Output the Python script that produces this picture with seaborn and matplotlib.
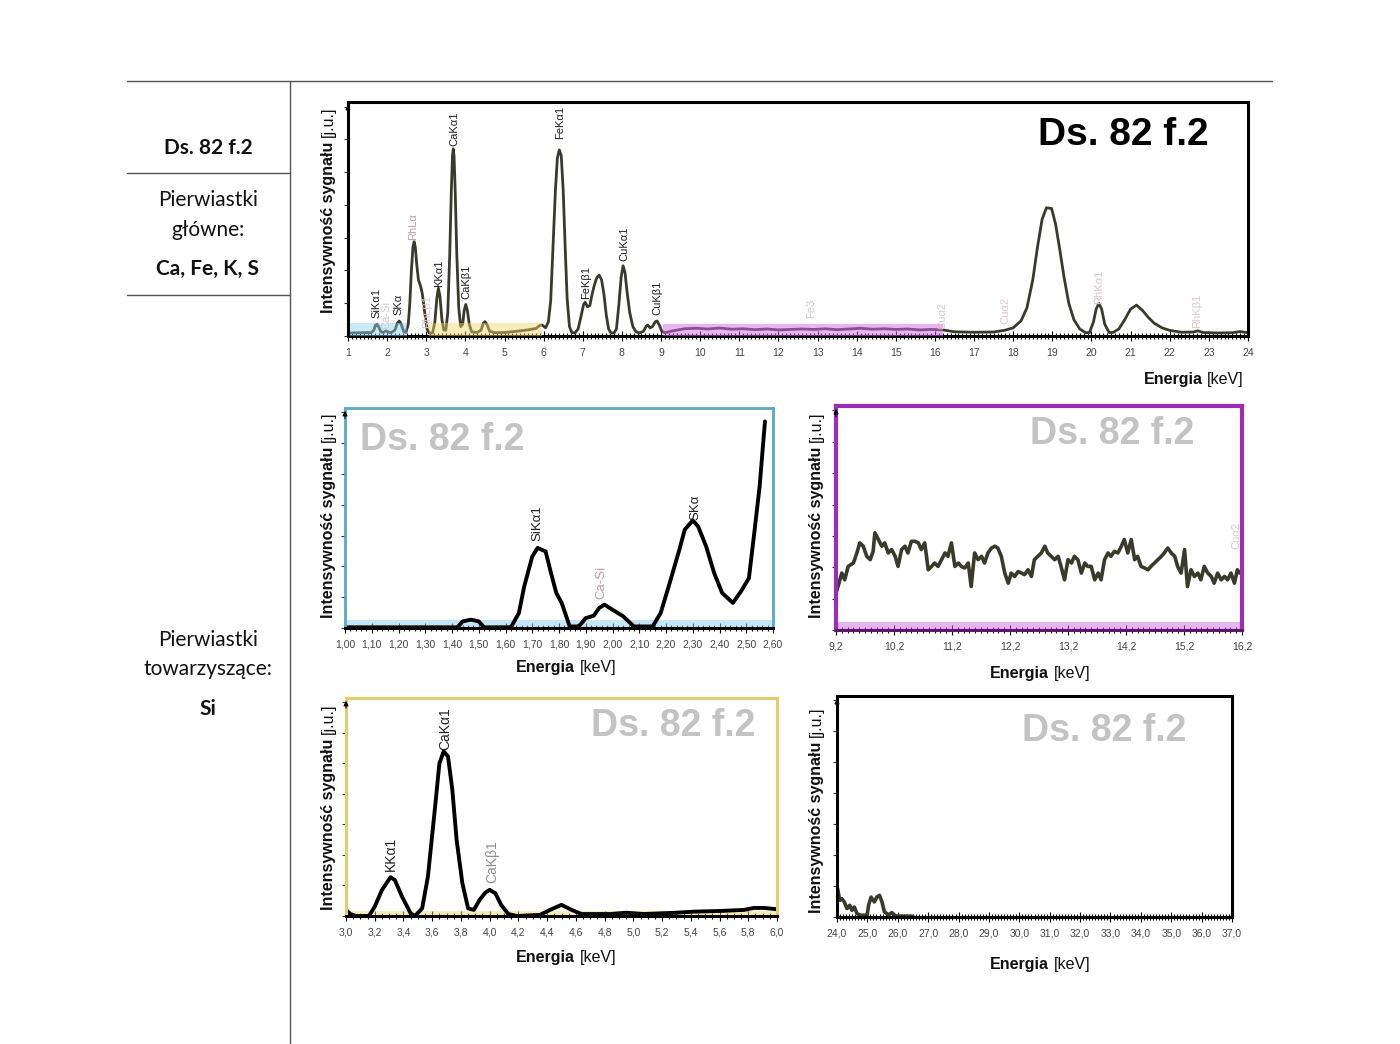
import numpy as np
import pandas as pd
import seaborn as sns
import matplotlib.pyplot as plt
from matplotlib.lines import Line2D
from matplotlib.patches import Rectangle
from matplotlib.ticker import FixedLocator, MultipleLocator, FuncFormatter

# --- full spectrum 1-24 keV (intensity in % of plot height) ---
top_energy = [1.00, 1.60, 1.66, 1.70, 1.74, 1.78, 1.84, 1.90, 1.97, 2.02,
              2.10, 2.20, 2.26, 2.31, 2.36, 2.42, 2.48, 2.54, 2.58, 2.62,
              2.66, 2.69, 2.72, 2.76, 2.80, 2.86, 2.90, 2.96, 3.02, 3.08,
              3.16, 3.22, 3.27, 3.31, 3.35, 3.40, 3.45, 3.50, 3.55, 3.60,
              3.64, 3.67, 3.69, 3.71, 3.74, 3.78, 3.83, 3.88, 3.93, 3.97,
              4.01, 4.05, 4.10, 4.16, 4.30, 4.40, 4.46, 4.50, 4.55, 4.62,
              4.75, 5.00, 5.30, 5.60, 5.80, 5.90, 5.96, 6.05, 6.12, 6.18,
              6.24, 6.30, 6.35, 6.40, 6.45, 6.50, 6.55, 6.60, 6.66, 6.72,
              6.80, 6.88, 6.95, 7.02, 7.06, 7.12, 7.18, 7.24, 7.30, 7.36,
              7.42, 7.48, 7.54, 7.60, 7.66, 7.72, 7.80, 7.86, 7.92, 7.98,
              8.03, 8.08, 8.13, 8.20, 8.28, 8.36, 8.45, 8.55, 8.62, 8.66,
              8.72, 8.78, 8.86, 8.90, 8.96, 9.02, 9.10, 9.30, 9.60, 9.90,
              10.20, 10.50, 10.80, 11.10, 11.40, 11.70, 12.00, 12.30, 12.60, 12.90,
              13.20, 13.50, 13.80, 14.10, 14.40, 14.70, 15.00, 15.30, 15.60, 15.90,
              16.20, 16.50, 17.00, 17.50, 17.80, 18.00, 18.20, 18.35, 18.50, 18.62,
              18.74, 18.85, 18.98, 19.08, 19.18, 19.30, 19.42, 19.55, 19.70, 19.85,
              19.95, 20.05, 20.12, 20.19, 20.26, 20.34, 20.45, 20.55, 20.70, 20.85,
              21.00, 21.15, 21.30, 21.45, 21.60, 21.80, 22.00, 22.30, 22.60, 22.72,
              22.85, 23.20, 23.60, 23.80, 23.95, 24.00]
top_counts = [1.3, 1.5, 2.5, 4.5, 5.0, 4.0, 1.8, 1.5, 2.2, 1.8,
              1.4, 2.5, 5.5, 6.4, 5.0, 2.0, 1.5, 5.0, 14, 28,
              38, 40.3, 38, 30, 24, 21, 18, 10, 3, 1.2,
              1.3, 6, 16, 20.4, 17, 7, 2.5, 2.5, 10, 35,
              62, 77, 80, 77, 62, 35, 12, 4, 5, 11,
              13.5, 11, 5, 1.8, 1.5, 2.5, 5.5, 6.1, 5, 2,
              1.4, 1.5, 2.0, 2.6, 3.2, 4.5, 4.7, 3.5, 6, 15,
              38, 62, 76, 79.5, 77, 62, 38, 16, 4, 1.5,
              1.3, 3, 8, 13.5, 14.4, 12.5, 13, 18, 22, 25,
              26, 24, 18, 9, 3, 1.3, 1.3, 3, 13, 25,
              30, 27, 19, 10, 4, 1.8, 1.3, 2, 4.2, 4.7,
              3.5, 4.0, 6.2, 6.4, 4.5, 2.0, 1.4, 2.2, 3.1, 3.3,
              3.0, 3.4, 2.9, 3.1, 2.7, 3.0, 2.6, 2.8, 3.0, 2.8,
              3.1, 2.7, 3.0, 3.3, 2.9, 3.1, 2.8, 3.0, 2.6, 2.8,
              2.6, 1.8, 1.6, 1.7, 2.5, 3.5, 6.5, 12, 24, 38,
              50, 54.8, 54.5, 48, 38, 25, 14, 7, 3, 1.4,
              1.5, 6, 11.5, 14, 11.5, 5, 1.5, 1.5, 3, 7,
              11.5, 13.2, 11, 8, 5.5, 3.5, 2.4, 1.6, 1.7, 2.2,
              1.5, 1.3, 1.4, 1.9, 1.5, 1.4]
top_ticks = list(range(1, 25))
top_labels = [("SiKα1", 1.72, 7.7, "k"), ("Ca-Si", 1.97, 3.0, "faint"),
              ("SKα", 2.30, 8.9, "k"), ("RhLα", 2.66, 41, "pink"),
              ("RhLβ1", 3.02, 3.4, "faint"), ("KKα1", 3.33, 21, "k"),
              ("CaKα1", 3.71, 81, "k"), ("CaKβ1", 4.02, 16, "k"),
              ("FeKα1", 6.42, 84, "k"), ("FeKβ1", 7.08, 16, "k"),
              ("CuKα1", 8.06, 32, "k"), ("CuKβ1", 8.90, 9, "k"),
              ("Fe3", 12.84, 7.7, "faint"), ("Cuα2", 16.2, 3, "faint"),
              ("Cuα2", 17.8, 5, "faint"), ("RhKα1", 20.2, 13.5, "faint"),
              ("RhKβ1", 22.7, 3.4, "faint")]

# --- zoom 1.0-2.6 keV ---
blue_energy = [1.00, 1.42, 1.44, 1.47, 1.50, 1.52, 1.62, 1.65, 1.67, 1.70,
               1.72, 1.75, 1.77, 1.79, 1.81, 1.84, 1.87, 1.88, 1.90, 1.93,
               1.95, 1.97, 2.00, 2.04, 2.08, 2.15, 2.18, 2.21, 2.25, 2.27,
               2.30, 2.32, 2.35, 2.38, 2.41, 2.45, 2.48, 2.51, 2.53, 2.55, 2.57]
blue_counts = [0.3, 0.3, 3.0, 3.8, 3.0, 0.3, 0.3, 6.8, 18.9, 32.5,
               36.4, 34.8, 25, 15.9, 11.4, 0.7, 0.7, 1.5, 4.5, 5.6,
               9.1, 10.6, 8.3, 5.3, 0.7, 0.7, 6.8, 18.9, 35.6, 44.7,
               48.9, 46.2, 37.1, 25, 15.9, 11.4, 16.6, 22.7, 43.2, 64.4, 93.9]
blue_ticks = [1.00, 1.10, 1.20, 1.30, 1.40, 1.50, 1.60, 1.70, 1.80,
              1.90, 2.00, 2.10, 2.20, 2.30, 2.40, 2.50, 2.60]
blue_labels = [("SiKα1", 1.72, 39.5, "k"), ("Ca-Si", 1.96, 13, "pink"),
               ("SKα", 2.31, 49, "k")]

# --- zoom 9.2-16.2 keV ---
purple_energy = [9.21, 9.30, 9.35, 9.41, 9.50, 9.56, 9.61, 9.67, 9.73, 9.79,
                 9.84, 9.87, 9.93, 9.99, 10.04, 10.10, 10.16, 10.22, 10.27, 10.33,
                 10.39, 10.44, 10.50, 10.56, 10.62, 10.67, 10.73, 10.79, 10.85, 10.90,
                 10.96, 11.02, 11.08, 11.13, 11.19, 11.25, 11.31, 11.36, 11.42, 11.48,
                 11.53, 11.59, 11.65, 11.71, 11.76, 11.82, 11.88, 11.94, 11.99, 12.05,
                 12.11, 12.17, 12.22, 12.28, 12.34, 12.40, 12.45, 12.51, 12.57, 12.62,
                 12.68, 12.74, 12.80, 12.85, 12.91, 12.97, 13.03, 13.08, 13.14, 13.20,
                 13.26, 13.31, 13.37, 13.43, 13.49, 13.54, 13.60, 13.66, 13.72, 13.77,
                 13.83, 13.89, 13.94, 14.00, 14.06, 14.12, 14.17, 14.23, 14.29, 14.35,
                 14.40, 14.46, 14.52, 14.58, 14.63, 14.69, 14.75, 14.81, 14.86, 14.92,
                 14.98, 15.04, 15.09, 15.15, 15.21, 15.26, 15.32, 15.38, 15.44, 15.49,
                 15.55, 15.61, 15.67, 15.72, 15.78, 15.84, 15.90, 15.95, 16.01, 16.07,
                 16.12, 16.16]
purple_counts = [17.2, 25.4, 22.4, 28.4, 29.9, 34.4, 38.9, 37.4, 32.9, 31.4,
                 35.1, 43.4, 40.4, 37.4, 38.9, 34.4, 35.9, 32.9, 28.4, 35.9,
                 37.4, 34.4, 39.6, 39.6, 38.9, 35.9, 38.9, 26.9, 28.4, 29.9,
                 28.4, 31.4, 34.4, 32.9, 38.9, 28.4, 29.9, 28.4, 27.7, 29.9,
                 19.4, 34.4, 31.4, 32.9, 29.9, 34.4, 36.6, 37.4, 36.6, 32.9,
                 25.4, 20.9, 25.4, 23.9, 26.1, 25.4, 24.7, 26.9, 23.9, 31.4,
                 32.9, 34.4, 37.4, 34.4, 32.9, 31.4, 32.9, 28.4, 22.4, 31.4,
                 29.9, 32.9, 31.4, 25.4, 29.9, 28.4, 28.4, 22.4, 25.4, 22.4,
                 31.4, 34.4, 32.9, 35.1, 34.4, 37.4, 40.4, 34.4, 40.4, 31.4,
                 32.9, 28.4, 27.7, 26.9, 28.4, 29.9, 31.4, 32.9, 34.4, 36.6,
                 34.4, 32.9, 28.4, 25.4, 35.9, 19.4, 26.9, 23.9, 25.4, 22.4,
                 28.4, 25.4, 23.9, 20.9, 25.4, 22.4, 23.9, 22.4, 25.4, 20.9,
                 26.9, 25.4]
purple_ticks = [9.2, 10.2, 11.2, 12.2, 13.2, 14.2, 15.2, 16.2]

# --- zoom 3.0-6.0 keV ---
yellow_energy = [3.00, 3.03, 3.07, 3.16, 3.20, 3.25, 3.31, 3.34, 3.39, 3.45,
                 3.48, 3.53, 3.57, 3.62, 3.65, 3.68, 3.71, 3.74, 3.77, 3.81,
                 3.85, 3.89, 3.93, 3.97, 4.00, 4.04, 4.08, 4.13, 4.19, 4.35,
                 4.42, 4.50, 4.57, 4.64, 4.84, 4.95, 5.07, 5.30, 5.42, 5.60,
                 5.77, 5.84, 5.91, 6.00]
yellow_counts = [2.8, 0.9, 0, 0, 4.3, 11.9, 17.8, 16.5, 8.9, 1.2,
                 0, 3.5, 18, 50, 70, 75.5, 73.2, 57.9, 34.9, 15,
                 3.5, 2.8, 7.4, 10.7, 12, 10.4, 5.1, 0.9, 0, 0.5,
                 2.8, 5.1, 2.8, 0.9, 0.9, 1.5, 0.9, 1.5, 2, 2.3,
                 2.8, 3.7, 3.7, 3.1]
yellow_ticks = [3.0, 3.2, 3.4, 3.6, 3.8, 4.0, 4.2, 4.4, 4.6, 4.8,
                5.0, 5.2, 5.4, 5.6, 5.8, 6.0]
yellow_labels = [("KKα1", 3.31, 20.5, "k"), ("CaKα1", 3.69, 76, "k"),
                 ("CaKβ1", 4.02, 15, "grey")]

# --- zoom 24-37 keV ---
black_energy = [24.02, 24.09, 24.16, 24.24, 24.33, 24.42, 24.49, 24.57, 24.66, 24.77,
                24.99, 25.04, 25.12, 25.23, 25.31, 25.40, 25.48, 25.56, 25.70, 25.81,
                25.92, 26.50]
black_counts = [12.8, 7.5, 8.3, 6.8, 3.8, 5.3, 3.0, 4.5, 1.5, 0.8,
                0.8, 5.3, 9.0, 6.8, 9.0, 9.8, 6.8, 2.3, 1.0, 2.0,
                0.5, 0.3]
black_ticks = list(range(24, 38))

sample = "Ds. 82 f.2"

sns.set_style("white")
plt.rcParams['font.family'] = ['Liberation Sans', 'DejaVu Sans']

W, H = 1400, 1044
fig = plt.figure(figsize=(14, 10.44), dpi=100)
OLIVE = '#3a3a2c'
LABEL_COLORS = {"k": "#222222", "pink": "#c49aa2", "faint": "#dcc6c8", "grey": "#8c8c8c"}


def px(x, y):
    return x / W, 1 - y / H


def box(l, t, r, b):
    return fig.add_axes([l / W, 1 - b / H, (r - l) / W, (b - t) / H])


def style(ax, xlim, ticks, minor, decimals, frame, frame_lw, bottom):
    ax.set_xlim(xlim)
    ax.set_ylim(0, 100)
    ax.xaxis.set_major_locator(FixedLocator(ticks))
    ax.xaxis.set_minor_locator(MultipleLocator(minor))
    ax.xaxis.set_major_formatter(FuncFormatter(
        lambda v, p: f"{v:.{decimals}f}".replace('.', ',')))
    ax.tick_params(axis='x', which='both', bottom=True, direction='inout',
                   color='k', width=0.8, labelsize=7.5, labelcolor='#444444', pad=5)
    ax.tick_params(axis='x', which='major', length=7)
    ax.tick_params(axis='x', which='minor', length=5)
    ax.yaxis.set_major_locator(MultipleLocator(14))
    ax.tick_params(axis='y', left=True, direction='out', length=3, width=0.8,
                   color='#333333', labelleft=False)
    for side in ['top', 'right', 'left']:
        ax.spines[side].set_color(frame)
        ax.spines[side].set_linewidth(frame_lw)
    ax.spines['bottom'].set_color(bottom)
    ax.spines['bottom'].set_linewidth(2.2)
    ax.annotate('', xy=(0.0, 1.0), xytext=(0.0, 0.94), xycoords='axes fraction',
                arrowprops=dict(arrowstyle='-|>', color='k', lw=0.8,
                                mutation_scale=7))
    ax.set_xlabel('')
    ax.set_ylabel('')


def peak_names(ax, labels, size):
    for name, x, y, c in labels:
        ax.text(x, y, name, rotation=90, ha='center', va='bottom',
                fontsize=size, color=LABEL_COLORS[c], zorder=5)


def two_weight(x, y, bold, normal, size, vertical=False, align='center'):
    r = fig.canvas.get_renderer()
    kw = dict(fontsize=size, ha='left', va='baseline', color='#111111',
              rotation=90 if vertical else 0, rotation_mode='anchor')
    a = fig.text(0, 0, bold, fontweight='bold', **kw)
    b = fig.text(0, 0, normal, **kw)
    ea, eb = a.get_window_extent(r), b.get_window_extent(r)
    la = ea.height if vertical else ea.width
    lb = eb.height if vertical else eb.width
    gap = 0.28 * size * 100 / 72
    if vertical:
        a.set_position(px(x, y))
        b.set_position(px(x, y - la - gap))
    else:
        total = la + gap + lb
        start = x - total / 2 if align == 'center' else x - total
        a.set_position(px(start, y))
        b.set_position(px(start + la + gap, y))


# ---------- left table column ----------
for (x0, y0, x1, y1) in [(127, 81, 1272, 81), (290, 81, 290, 1044),
                         (127, 173, 290, 173), (127, 295, 290, 295)]:
    fig.add_artist(Line2D([x0 / W, x1 / W], [1 - y0 / H, 1 - y1 / H],
                          transform=fig.transFigure, color='#555555', lw=1))
left_texts = [(sample, 148, 'bold'), ("Pierwiastki", 200, 'normal'),
              ("główne:", 230, 'normal'), ("Ca, Fe, K, S", 269, 'bold'),
              ("Pierwiastki", 640, 'normal'), ("towarzyszące:", 669, 'normal'),
              ("Si", 709, 'bold')]
for s, y, w in left_texts:
    fig.text(*px(208, y), s, ha='center', va='center', fontsize=15,
             fontweight=w, family=['Lato', 'DejaVu Sans'], color='#111111')

# ---------- top: full spectrum ----------
ax = box(348, 102, 1248, 336)
sns.lineplot(x=top_energy, y=top_counts, ax=ax, color=OLIVE, linewidth=2.0,
             sort=False, estimator=None)
style(ax, (1, 24), top_ticks, 0.1, 0, 'k', 2.2, 'k')
for x0, x1, h, c, a in [(1.05, 2.5, 5.7, '#8ccfee', 0.45),
                        (3.07, 5.96, 5.7, '#f3d66a', 0.45),
                        (9.05, 16.2, 5.3, '#d56ae6', 0.5)]:
    ax.add_patch(Rectangle((x0, 0), x1 - x0, h, color=c, alpha=a, lw=0, zorder=3))
peak_names(ax, top_labels, 8)
ax.text(0.862, 0.86, sample, transform=ax.transAxes, ha='center', va='center',
        fontsize=28, fontweight='bold', color='k')

# ---------- blue: 1.0-2.6 keV ----------
ax = box(345, 408, 773, 628)
ax.add_patch(Rectangle((1.0, 0), 1.6, 3.5, color='#8ccfee', alpha=0.5, lw=0, zorder=1))
sns.lineplot(x=blue_energy, y=blue_counts, ax=ax, color='k', linewidth=2.8,
             sort=False, estimator=None)
style(ax, (1.0, 2.6), blue_ticks, 0.02, 2, '#57a9c9', 2.0, 'k')
peak_names(ax, blue_labels, 9.5)
ax.text(0.035, 0.855, sample, transform=ax.transAxes, ha='left', va='center',
        fontsize=27, fontweight='bold', color='#c3c3c3')

# ---------- purple: 9.2-16.2 keV ----------
ax = box(836, 406, 1242, 630)
ax.add_patch(Rectangle((9.2, 0), 7.0, 3.5, color='#d56ae6', alpha=0.5, lw=0, zorder=1))
sns.lineplot(x=purple_energy, y=purple_counts, ax=ax, color=OLIVE, linewidth=2.6,
             sort=False, estimator=None)
style(ax, (9.2, 16.2), purple_ticks, 0.1, 1, '#9b2fb3', 3.0, '#5a1a6a')
ax.text(16.1, 36, "Cuα2", rotation=90, ha='center', va='bottom', fontsize=8,
        color=LABEL_COLORS['faint'])
ax.text(0.68, 0.875, sample, transform=ax.transAxes, ha='center', va='center',
        fontsize=27, fontweight='bold', color='#c3c3c3')

# ---------- yellow: 3.0-6.0 keV ----------
ax = box(346, 698, 777, 916)
ax.add_patch(Rectangle((3.0, 0), 3.0, 2.5, color='#f3d66a', alpha=0.45, lw=0, zorder=1))
sns.lineplot(x=yellow_energy, y=yellow_counts, ax=ax, color='k', linewidth=2.8,
             sort=False, estimator=None)
style(ax, (3.0, 6.0), yellow_ticks, 0.05, 1, '#e2cf6b', 2.2, 'k')
peak_names(ax, yellow_labels, 10)
ax.text(0.759, 0.87, sample, transform=ax.transAxes, ha='center', va='center',
        fontsize=27, fontweight='bold', color='#c3c3c3')

# ---------- black: 24-37 keV ----------
ax = box(837, 696, 1232, 917)
sns.lineplot(x=black_energy, y=black_counts, ax=ax, color=OLIVE, linewidth=2.6,
             sort=False, estimator=None)
style(ax, (24, 37), black_ticks, 0.1, 1, 'k', 2.2, 'k')
ax.text(0.676, 0.84, sample, transform=ax.transAxes, ha='center', va='center',
        fontsize=27, fontweight='bold', color='#c3c3c3')

# ---------- axis titles (bold part + regular unit) ----------
ylab = ("Intensywność sygnału", "[j.u.]")
for bx, by in [(333, 313), (333, 618), (821, 618), (333, 910), (821, 913)]:
    two_weight(bx, by, *ylab, 11.5, vertical=True)
two_weight(1244, 384, "Energia", "[keV]", 11.5, align='right')
for cx, by in [(566, 672), (1040, 678), (566, 962), (1040, 969)]:
    two_weight(cx, by, "Energia", "[keV]", 11.5)

fig.savefig('out.png', dpi=100)
